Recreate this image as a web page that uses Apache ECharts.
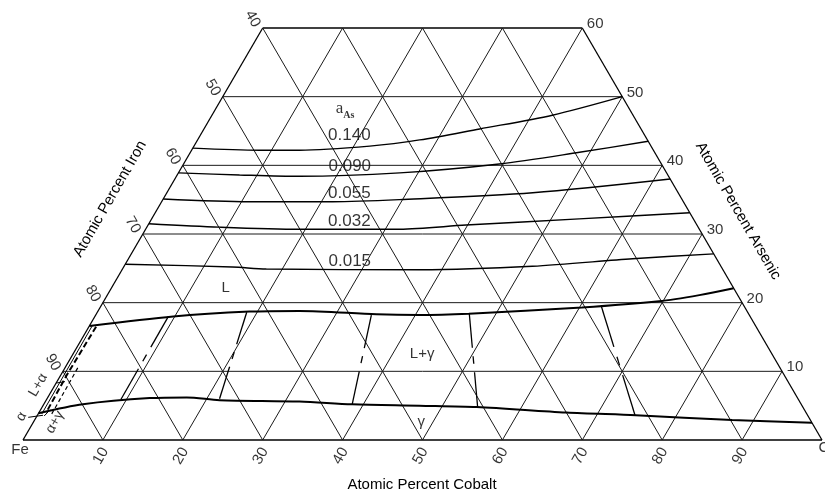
<!DOCTYPE html>
<html><head><meta charset="utf-8">
<script src="https://cdn.jsdelivr.net/npm/echarts@6/dist/echarts.min.js"></script>
<style>html,body{margin:0;padding:0;background:#fff}#c{width:825px;height:495px}</style>
</head><body><div id="c"></div>
<script>
// All compositions are ternary [Co %, As %] (Fe = 100 - Co - As)
const coTicks = [10,20,30,40,50,60,70,80,90];
const feTicks = [10,20,30,40,50,60,70,80,90];
const asTicks = [10,20,30,40,50];
const asMax = 60;
const coTickLabels = ['10','20','30','40','50','60','70','80','90'];
const feEdgeValues = [40,50,60,70,80,90];
const feEdgeLabels = ['40','50','60','70','80','90'];
const asEdgeValues = [60,50,40,30,20,10];
const asEdgeLabels = ['60','50','40','30','20','10'];

// iso-activity lines of arsenic
const isoNames = ['0.140','0.090','0.055','0.032','0.015'];
const iso140 = [[0,42.5],[8.5,42.2],[13.5,42.2],[22.0,42.8],[27.8,43.7],[34.5,45.3],[42.6,47.3],[50,50]];
const iso090 = [[0,38.9],[7.8,38.6],[15.4,38.4],[27.7,38.9],[39.5,40.2],[48.7,41.9],[56.5,43.5]];
const iso055 = [[0,35.1],[11.0,34.7],[21.4,34.7],[29.6,35.0],[45.8,36.0],[62.0,38.0]];
const iso032 = [[0,31.5],[9.1,31.0],[19.3,30.7],[31.8,30.7],[39.8,31.3],[53.5,32.2],[66.9,33.1]];
const iso015 = [[0,25.6],[13.6,25.2],[18.0,24.9],[37.2,24.8],[51.1,25.3],[63.1,26.4],[72.9,27.1]];
const isoLabelPos = [[18.7,44.3],[21.0,39.8],[22.9,35.9],[24.9,31.9],[27.9,26.0]];

// phase boundaries
const liquidus = [[0,16.6],[9.8,18.0],[19.0,18.7],[25.2,18.8],[35.1,18.3],[40.5,18.2],[46.6,18.4],[60.3,19.3],[69.5,20.2],[74.1,21.1],[77.9,22.1]];
const solidus = [[0,3.9],[4.9,5.2],[12.8,6.1],[17.4,6.2],[21.7,5.8],[31.8,5.6],[38.6,5.2],[47.1,5.0],[54.4,4.8],[66.0,4.0],[74.9,3.6],[87.3,2.9],[97.5,2.5]];
// tie lines (liquid end, solid end)
const tieLines = [
  [[9.2,18.0],[9.3,5.9]],
  [[18.7,18.6],[21.6,6.0]],
  [[34.5,18.2],[38.6,5.2]],
  [[46.6,18.5],[54.5,4.8]],
  [[62.7,19.4],[74.8,3.6]]
];
// alpha-region boundaries near Fe corner
const alphaSolid = [[0.35,16.6],[0.45,3.8]];
const alphaDashThick = [[0.9,16.5],[0.75,9.5],[0.9,4.0]];
const alphaDashThin = [[1.6,10.5],[1.7,3.8]];
const leaders = [
  [[-1.0,3.3],[0.7,3.6]],
  [[0.04,8.3],[1.0,8.5]],
  [[1.2,4.4],[0.9,3.5]]
];
// region labels
const regionText = ['L','L+γ','γ'];
const regionPos = [[14.3,22.1],[43.7,12.5],[48.5,2.7]];
const sideText = ['L+α','α','α+γ'];
const sidePos = [[-2.1,8.0],[-1.9,3.4],[2.7,2.6]];
const aAsPos = [16.4,47.8];

const FONT = '"Liberation Sans", Arial, sans-serif';
const INK = '#000';
const T = p => [p[0] + p[1] / 2, p[1]];
const lerp = (a, b, t) => [a[0] + (b[0]-a[0])*t, a[1] + (b[1]-a[1])*t];
// convert a screen-space offset into ECharts' rotated label frame
function rotOffset(dx, dy, deg) {
  const t = deg * Math.PI / 180, c = Math.cos(t), s = Math.sin(t);
  return [dx * c - dy * s, dx * s + dy * c];
}

const series = [];
function addLine(pts, width, opts) {
  opts = opts || {};
  series.push({
    type: 'line', data: pts.map(T), symbol: 'none', silent: true, clip: false,
    smooth: opts.smooth || false, animation: false,
    lineStyle: { color: opts.color || INK, width: width, type: opts.type || 'solid', cap: 'butt' }
  });
}
// outline
addLine([[0,0],[100,0]], 1.3);
addLine([[0,0],[0,asMax]], 1.3);
addLine([[100,0],[100-asMax,asMax]], 1.3);
addLine([[0,asMax],[100-asMax,asMax]], 1.3);
// grid
asTicks.forEach(a => addLine([[0,a],[100-a,a]], 1, {color:'#1a1a1a'}));
coTicks.forEach(c => addLine([[c,0],[c, Math.min(asMax, 100-c)]], 1, {color:'#1a1a1a'}));
feTicks.forEach(f => {
  const top = f < 100-asMax ? [100-asMax-f, asMax] : [0, 100-f];
  addLine([[100-f,0], top], 1, {color:'#1a1a1a'});
});
// iso lines
[iso140, iso090, iso055, iso032, iso015].forEach(l => addLine(l, 1.4, {smooth:0.3}));
// liquidus / solidus
addLine(liquidus, 2, {smooth:0.3});
addLine(solidus, 2, {smooth:0.3});
// tie lines: solid ends with a short dash in the middle
tieLines.forEach(([a,b]) => {
  addLine([a, lerp(a,b,0.37)], 1.3);
  addLine([lerp(a,b,0.46), lerp(a,b,0.54)], 1.3);
  addLine([lerp(a,b,0.63), b], 1.3);
});
addLine(alphaSolid, 1);
addLine(alphaDashThick, 2, {type:[6,3]});
addLine(alphaDashThin, 1.2, {type:[4,3]});
leaders.forEach(l => addLine(l, 1));

// labels
const labelData = [];
function addLabel(pos, text, o) {
  labelData.push({
    value: T(pos),
    label: Object.assign({
      show: true, formatter: text, position: 'inside', color: INK,
      fontFamily: FONT, fontSize: 15
    }, o || {})
  });
}
coTicks.forEach((c,i) => addLabel([c,0], coTickLabels[i], {rotate:60, offset:rotOffset(-2,16,60)}));
feEdgeValues.forEach((f,i) => addLabel([0,100-f], feEdgeLabels[i], {rotate:-60, offset:rotOffset(-10,-9,-60)}));
asEdgeValues.forEach((a,i) => addLabel([100-a,a], asEdgeLabels[i], {position:'right', distance:4, offset:[0,-4]}));
addLabel([0,0], 'Fe', {offset:[-3,10]});
addLabel([100,0], 'Co', {offset:[6,8]});
isoNames.forEach((n,i) => addLabel(isoLabelPos[i], n, {fontSize:17}));
regionText.forEach((n,i) => addLabel(regionPos[i], n, {fontSize:15}));
sideText.forEach((n,i) => addLabel(sidePos[i], n, {fontSize:14, rotate:60}));
addLabel(aAsPos, '{a|a}{s|As}', {rich:{
  a:{fontFamily:'"Liberation Serif", serif', fontSize:17, color:INK, padding:[0,0,6,0]},
  s:{fontFamily:'"Liberation Serif", serif', fontSize:10, fontWeight:'bold', color:INK, padding:[8,0,0,0]}
}});

series.push({
  type: 'scatter', data: labelData, symbolSize: 1, silent: true, animation: false,
  itemStyle: { color: 'rgba(0,0,0,0)' }, clip: false
});

const chart = echarts.init(document.getElementById('c'), null, {renderer:'canvas'});
chart.setOption({
  animation: false,
  backgroundColor: '#fff',
  grid: { left: 23, right: 3, top: 28, bottom: 55 },
  xAxis: { type: 'value', min: 0, max: 100, show: false },
  yAxis: { type: 'value', min: 0, max: asMax, show: false },
  graphic: [
    { type:'text', x:110, y:199, rotation:Math.PI/3, style:{text:'Atomic Percent Iron', font:'15px "Liberation Sans", Arial', fill:INK, align:'center', verticalAlign:'middle'} },
    { type:'text', x:738, y:211, rotation:-Math.PI/3, style:{text:'Atomic Percent Arsenic', font:'15px "Liberation Sans", Arial', fill:INK, align:'center', verticalAlign:'middle'} },
    { type:'text', x:422, y:485, style:{text:'Atomic Percent Cobalt', font:'15px "Liberation Sans", Arial', fill:INK, align:'center', verticalAlign:'middle'} }
  ],
  series: series
});
</script>
</body></html>
